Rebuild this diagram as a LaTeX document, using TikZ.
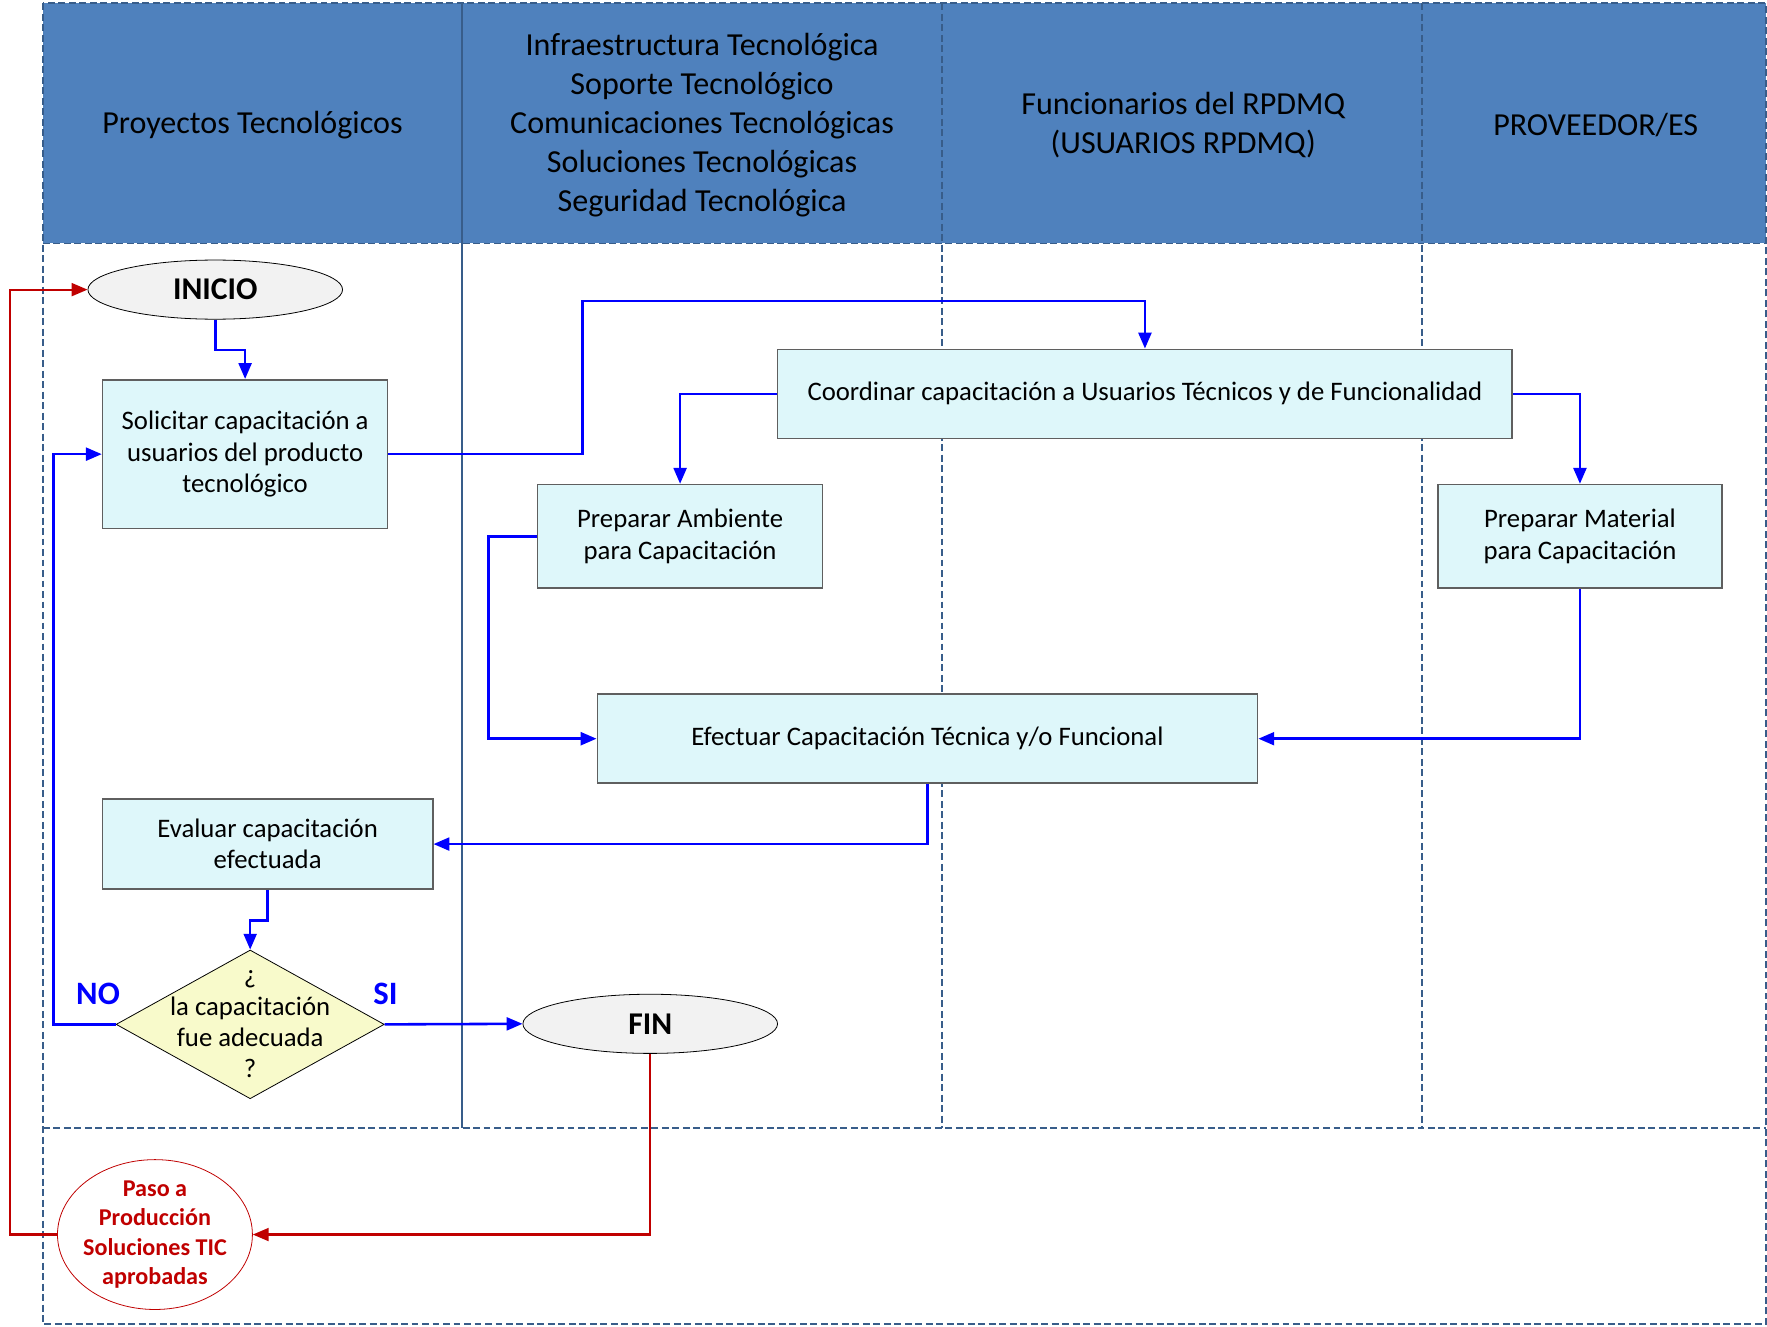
\documentclass[tikz,border=0pt]{standalone}
\usepackage{fontspec}
\setmainfont{Carlito}
\usetikzlibrary{shapes.geometric,arrows.meta}
\definecolor{headfill}{HTML}{4F81BD}
\definecolor{laneline}{HTML}{385D8A}
\definecolor{boxfill}{HTML}{DEF7FA}
\definecolor{boxline}{HTML}{5F5F5F}
\definecolor{termfill}{HTML}{F2F2F2}
\definecolor{decfill}{HTML}{F8FACB}
\definecolor{flowblue}{HTML}{0000FF}
\definecolor{backred}{HTML}{C00000}

\begin{document}
\begin{tikzpicture}[x=0.02cm, y=-0.02cm,
  every node/.style = {align=center, font=\fontsize{13.5}{15.9}\selectfont},
  proc/.style = {shape=rectangle, draw=boxline, fill=boxfill, line width=0.8pt},
  term/.style = {shape=ellipse, draw, fill=termfill, inner sep=0pt,
    minimum width=4.52cm, minimum height=1.05cm,
    font=\fontsize{16}{19}\selectfont\bfseries},
  decision/.style = {shape=diamond, draw, fill=decfill, inner sep=0pt,
    minimum width=4.76cm, minimum height=2.64cm},
  link/.style = {shape=ellipse, draw=backred, fill=white, inner sep=0pt,
    minimum width=3.46cm, minimum height=2.66cm},
  linktext/.style = {text=backred, font=\fontsize{12.2}{14.7}\selectfont\bfseries},
  lanehead/.style = {font=\fontsize{16.2}{19.6}\selectfont},
  answer/.style = {text=flowblue, font=\fontsize{16.5}{19}\selectfont\bfseries},
  lane/.style = {draw=laneline, line width=0.9pt, dash pattern=on 3.5pt off 1.8pt},
  flow/.style = {draw=flowblue, line width=1.3pt, -{Triangle[length=8pt,width=6.5pt]}},
  back/.style = {draw=backred, line width=1.1pt, -{Triangle[length=8pt,width=6.5pt]}}]
  \useasboundingbox[fill=white] (0,0) rectangle (1568,1177);

  \fill[headfill] (38,3) rectangle (1567,216);
  \draw[lane] (38,3) rectangle (1567,1175);
  \draw[lane] (38,216) -- (1567,216);
  \draw[lane] (38,1001) -- (1567,1001);
  \draw[laneline, line width=0.6pt] (410,3) -- (410,1001);
  \foreach \x in {836,1262}
    \draw[lane] (\x,3) -- (\x,1001);

  \node[lanehead] (hdrProy) at (224,111) {Proyectos Tecnológicos};
  \node[lanehead] (hdrInfra) at (623,111) {Infraestructura Tecnológica\\Soporte Tecnológico\\Comunicaciones Tecnológicas\\Soluciones Tecnológicas\\Seguridad Tecnológica};
  \node[lanehead] (hdrFunc) at (1050,111) {Funcionarios del RPDMQ\\(USUARIOS RPDMQ)};
  \node[lanehead] (hdrProv) at (1416,111) {PROVEEDOR/ES};

  \node[term] (inicio) at (191,257) {INICIO};
  \node[proc, minimum width=5.06cm, minimum height=2.64cm] (solicitar) at (217.5,403) {Solicitar capacitación a\\usuarios del producto\\tecnológico};
  \node[proc, minimum width=13.04cm, minimum height=1.58cm] (coordinar) at (1016,349.5) {Coordinar capacitación a Usuarios Técnicos y de Funcionalidad};
  \node[proc, minimum width=5.06cm, minimum height=1.84cm] (ambiente) at (603.5,476) {Preparar Ambiente\\para Capacitación};
  \node[proc, minimum width=5.04cm, minimum height=1.84cm] (material) at (1402,476) {Preparar Material\\para Capacitación};
  \node[proc, minimum width=11.72cm, minimum height=1.58cm] (efectuar) at (823,655.5) {Efectuar Capacitación Técnica y/o Funcional};
  \node[proc, minimum width=5.86cm, minimum height=1.6cm] (evaluar) at (237.5,749) {Evaluar capacitación\\efectuada};
  \node[decision] (adecuada) at (222,909) {};
  \node (adecuadaText) at (adecuada) {¿\\la capacitación\\fue adecuada\\?};
  \node[term] (fin) at (577,908.5) {FIN};
  \node[link] (paso) at (137.5,1095.5) {};
  \node[linktext] (pasoText) at (paso) {Paso a\\Producción\\Soluciones TIC\\aprobadas};
  \node[answer] (no) at (87,882) {NO};
  \node[answer] (si) at (342,882) {SI};

  \draw[flow] (inicio.south) -- ++(0,27) -| (solicitar.north);
  \draw[flow] (solicitar.east) -| (517,267) -| (coordinar.north);
  \draw[flow] (coordinar.west) -| (ambiente.north);
  \draw[flow] (coordinar.east) -| (material.north);
  \draw[flow] (ambiente.west) -- ++(-43,0) |- (efectuar.west);
  \draw[flow] (material.south) |- (efectuar.east);
  \draw[flow] (efectuar.south) |- (evaluar.east);
  \draw[flow] (evaluar.south) -- ++(0,27) -| (adecuada.north);
  \draw[flow] (adecuada.west) -- ++(-55,0) |- (solicitar.west);
  \draw[flow] (adecuada.east) -- (fin.west);
  \draw[back] (fin.south) |- (paso.east);
  \draw[back] (paso.west) -- ++(-42,0) |- (inicio.west);
\end{tikzpicture}
\end{document}
